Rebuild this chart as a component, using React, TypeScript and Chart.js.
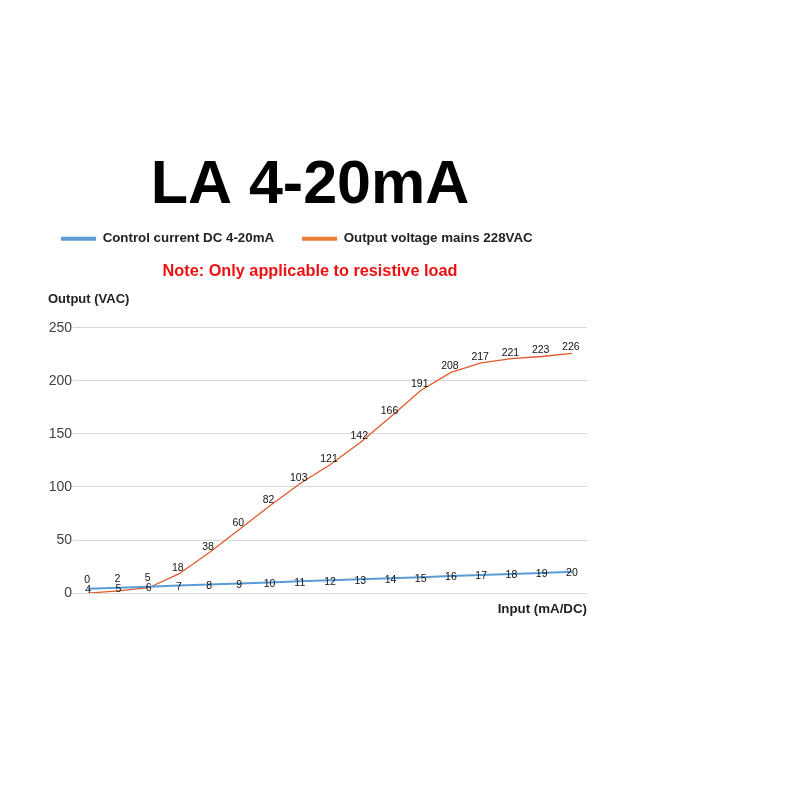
import React, { useEffect, useRef } from 'react';
import { Chart, registerables } from 'chart.js';

Chart.register(...registerables);

const inputCurrent = ['4', '5', '6', '7', '8', '9', '10', '11', '12', '13', '14', '15', '16', '17', '18', '19', '20'];
const controlCurrent = [4, 5, 6, 7, 8, 9, 10, 11, 12, 13, 14, 15, 16, 17, 18, 19, 20];
const outputVoltage = [0, 2, 5, 18, 38, 60, 82, 103, 121, 142, 166, 191, 208, 217, 221, 223, 226];
const seriesNames = ['Control current DC 4-20mA', 'Output voltage mains 228VAC'];
const lineColors = ['#5B9BD5', '#DF5A2C'];
const legendColors = ['#5B9BD5', '#ED7D31'];
const yMin = 0;
const yMax = 250;
const yStep = 50;

const FONT = '"Liberation Sans", Arial, sans-serif';

const labelPlugin = {
  id: 'pointLabels',
  afterDatasetsDraw(chart: any) {
    const ctx = chart.ctx;
    const blue = chart.getDatasetMeta(0).data;
    const orange = chart.getDatasetMeta(1).data;
    ctx.save();
    ctx.font = `10.5px ${FONT}`;
    ctx.fillStyle = '#111';
    ctx.textAlign = 'center';
    ctx.textBaseline = 'middle';
    blue.forEach((p: any, i: number) => {
      ctx.fillText(String(controlCurrent[i]), p.x, p.y + 1.5);
    });
    orange.forEach((p: any, i: number) => {
      let y = p.y - 6;
      const by = blue[i].y + 1.5;
      if (Math.abs(by - y) < 10) y = by - 10;
      ctx.fillText(String(outputVoltage[i]), p.x - 1, y);
    });
    ctx.font = `bold 13px ${FONT}`;
    ctx.textAlign = 'left';
    ctx.fillStyle = '#222';
    ctx.fillText('Output (VAC)', chart.chartArea.left - 25, chart.chartArea.top - 28);
    ctx.restore();
  },
};

export default function App() {
  const ref = useRef<HTMLCanvasElement>(null);
  useEffect(() => {
    if (!ref.current) return;
    Chart.defaults.font.family = FONT;
    const chart = new Chart(ref.current, {
      type: 'line',
      data: {
        labels: inputCurrent,
        datasets: [
          {
            label: seriesNames[0],
            data: controlCurrent,
            borderColor: lineColors[0],
            backgroundColor: legendColors[0],
            borderWidth: 2,
            pointRadius: 0,
            tension: 0,
          },
          {
            label: seriesNames[1],
            data: outputVoltage,
            borderColor: lineColors[1],
            backgroundColor: legendColors[1],
            borderWidth: 1.3,
            pointRadius: 0,
            tension: 0,
          },
        ],
      },
      options: {
        responsive: false,
        animation: false,
        layout: { padding: { top: 0, left: 33, right: 213, bottom: 179 } },
        plugins: {
          title: {
            display: true,
            text: 'LA 4-20mA',
            color: '#000',
            font: { family: FONT, size: 61, weight: 'bold' },
            padding: { top: 150, bottom: -19.2 },
          },
          legend: {
            display: true,
            position: 'top',
            align: 'start',
            labels: {
              boxWidth: 35,
              boxHeight: 4,
              padding: 28,
              color: '#222',
              font: { family: FONT, size: 13.3, weight: 'bold' },
              generateLabels: (c: any) =>
                c.data.datasets.map((ds: any, i: number) => ({
                  text: ds.label,
                  fillStyle: legendColors[i],
                  strokeStyle: legendColors[i],
                  lineWidth: 0,
                  hidden: false,
                  datasetIndex: i,
                  fontColor: '#222',
                })),
            },
          },
          subtitle: {
            display: true,
            text: 'Note: Only applicable to resistive load',
            color: '#EE1111',
            font: { family: FONT, size: 16.3, weight: 'bold' },
            padding: { top: 6, bottom: 47 },
            weight: 500,
          } as any,
          tooltip: { enabled: false },
        },
        scales: {
          x: {
            type: 'category',
            offset: true,
            grid: { display: false },
            border: { display: false },
            ticks: { display: false },
            title: {
              display: true,
              text: 'Input (mA/DC)',
              align: 'end',
              color: '#222',
              font: { family: FONT, size: 13.3, weight: 'bold' },
              padding: { top: 0, bottom: 4 },
            },
          },
          y: {
            min: yMin,
            max: yMax,
            afterFit: (s: any) => {
              s.width = 40;
            },
            ticks: {
              stepSize: yStep,
              padding: 1,
              color: '#404040',
              font: { family: FONT, size: 14 },
            },
            grid: { color: '#d9d9d9', lineWidth: 1, drawTicks: false },
            border: { display: false },
          },
        },
      },
      plugins: [labelPlugin],
    });
    return () => chart.destroy();
  }, []);
  return (
    <div style={{ position: 'absolute', left: 0, top: 0, width: 800, height: 800, background: '#fff' }}>
      <canvas ref={ref} width={800} height={800} />
    </div>
  );
}
